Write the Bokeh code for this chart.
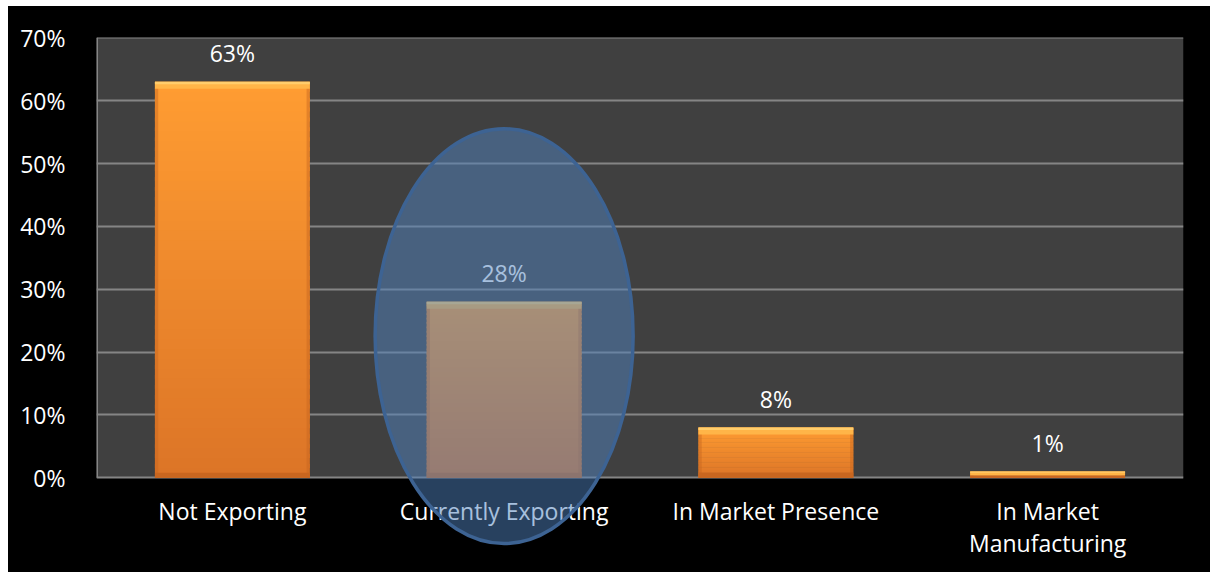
from bokeh.plotting import figure
from bokeh.models import Range1d, FixedTicker, NumeralTickFormatter, ColumnDataSource
from bokeh.embed import file_html
from bokeh.resources import INLINE
from bokeh.core.properties import value

# ---- data ----
categories = ["Not Exporting", "Currently Exporting", "In Market Presence", "In Market\nManufacturing"]
shares = [0.63, 0.28, 0.08, 0.01]
value_labels = ["63%", "28%", "8%", "1%"]
y_ticks = [0.0, 0.1, 0.2, 0.3, 0.4, 0.5, 0.6, 0.7]
highlighted = "Currently Exporting"

FONT = "Open Sans"
FS = "23px"
BAR_W = 0.57
GRID = "#858585"

p = figure(width=1202, height=566,
           x_range=Range1d(0, len(categories)), y_range=Range1d(-0.1506, 0.7005),
           output_backend="svg", toolbar_location=None,
           min_border_left=88, min_border_right=27, min_border_top=31, min_border_bottom=0,
           background_fill_color="black", border_fill_color="black",
           outline_line_color=None, x_axis_location=None)
p.margin = (6, 0, 0, 8)
p.styles = {"background-color": "black"}

# y axis
p.yaxis.ticker = FixedTicker(ticks=y_ticks)
p.yaxis.formatter = NumeralTickFormatter(format="0%")
p.yaxis.axis_line_color = None
p.yaxis.major_tick_line_color = None
p.yaxis.minor_tick_line_color = None
p.yaxis.major_label_standoff = 25
p.yaxis.major_label_text_color = "white"
p.yaxis.major_label_text_font = FONT
p.yaxis.major_label_text_font_size = FS

p.xgrid.visible = False
p.ygrid.ticker = FixedTicker(ticks=y_ticks)
p.ygrid.grid_line_color = GRID
p.ygrid.grid_line_width = 2

# plot-area background
p.quad(left=0, right=len(categories), bottom=0, top=max(y_ticks),
       fill_color="#404040", line_color=None, level="image")
p.segment(x0=[0], y0=[0], x1=[0], y1=[max(y_ticks)], line_color=GRID, line_width=3, level="underlay")


def mix(c1, c2, t):
    a = [int(c1[i:i + 2], 16) for i in (1, 3, 5)]
    b = [int(c2[i:i + 2], 16) for i in (1, 3, 5)]
    return "#%02x%02x%02x" % tuple(round(a[j] + (b[j] - a[j]) * t) for j in range(3))


centers = [i + 0.5 for i in range(len(categories))]

# bars with vertical gradient
N = 40
L, R, B, T, C = [], [], [], [], []
for cx, v in zip(centers, shares):
    for k in range(N):
        L.append(cx - BAR_W / 2)
        R.append(cx + BAR_W / 2)
        B.append(v * k / N)
        T.append(min(v, v * (k + 1.4) / N))
        C.append(mix("#dc7527", "#ff9c32", (k + 0.5) / N))
p.quad(left=L, right=R, bottom=B, top=T, fill_color=C, line_color=None)

# bevel: side shading, top highlight, bottom shade
for cx, v in zip(centers, shares):
    sw = 0.012
    p.quad(left=[cx - BAR_W / 2, cx + BAR_W / 2 - sw], right=[cx - BAR_W / 2 + sw, cx + BAR_W / 2],
           bottom=[0, 0], top=[v, v], fill_color="#c8661f", fill_alpha=0.45, line_color=None)
    tb = min(0.011, v * 0.6)
    p.quad(left=[cx - BAR_W / 2], right=[cx + BAR_W / 2], bottom=[v - tb], top=[v],
           fill_color="#ffb548", line_color=None)
    p.quad(left=[cx - BAR_W / 2], right=[cx + BAR_W / 2], bottom=[v - tb * 0.35], top=[v],
           fill_color="#ffcd6c", line_color=None)
    bb = min(0.008, v * 0.3)
    p.quad(left=[cx - BAR_W / 2], right=[cx + BAR_W / 2], bottom=[0], top=[bb],
           fill_color="#c9661f", line_color=None)

# value labels
p.text(x=centers, y=shares, text=value_labels, text_align="center", text_baseline="alphabetic",
       y_offset=-29, text_color="white", text_font=value(FONT), text_font_size=FS)

# category labels (multi-line split)
cx_l, txt_l, off_l = [], [], []
for cx, cat in zip(centers, categories):
    for j, line in enumerate(cat.split("\n")):
        cx_l.append(cx)
        txt_l.append(line)
        off_l.append(33 + 32 * j)
src = ColumnDataSource(dict(x=cx_l, y=[0] * len(cx_l), text=txt_l, yo=off_l))
p.text(x="x", y="y", text="text", y_offset="yo", source=src, text_align="center",
       text_baseline="alphabetic", text_color="white", text_font=value(FONT), text_font_size=FS)

# highlight ellipse around the "Currently Exporting" bar
hx = categories.index(highlighted) + 0.5
p.ellipse(x=[hx], y=[0.2255], width=258, height=415, width_units="screen", height_units="screen",
          fill_color="#4f81bd", fill_alpha=0.5, line_color="#3d6393", line_width=3.5)

open("out.html", "w").write(file_html(p, INLINE))
